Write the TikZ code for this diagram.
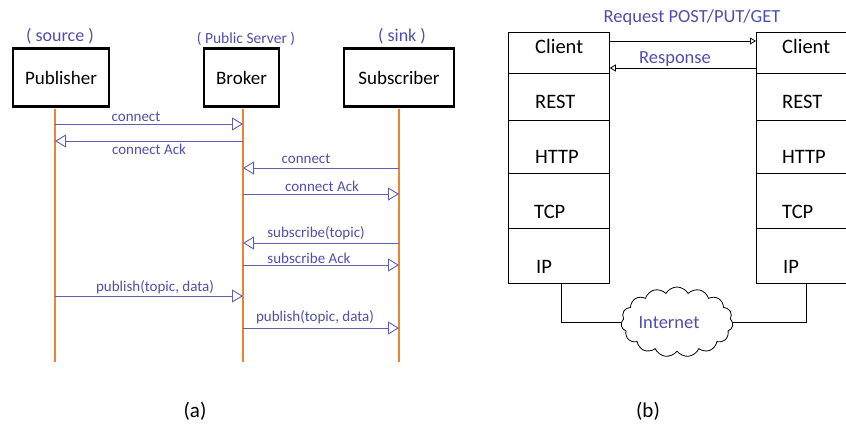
\documentclass[tikz,border=0pt]{standalone}
\usepackage{fontspec}
\setmainfont{Carlito}
\usetikzlibrary{arrows.meta,shapes.symbols}
\definecolor{txtblue}{RGB}{80,80,170}
\definecolor{lnblue}{RGB}{95,95,180}
\definecolor{lifeor}{RGB}{240,128,50}
\tikzset{
  actor/.style={draw=black, line width=2.6pt, minimum width=94pt, minimum height=58pt, inner sep=0pt, font=\fontsize{19}{21}\selectfont},
  role/.style={text=txtblue, anchor=base, inner sep=0pt},
  life/.style={draw=lifeor, line width=2.8pt},
  msg/.style={draw=lnblue, line width=0.9pt, -{Triangle[open, length=11pt, width=13pt]}},
  mlabel/.style={text=txtblue, anchor=base, inner sep=0pt, font=\fontsize{15}{17}\selectfont},
  layer/.style={draw=black, line width=0.8pt, anchor=north west, inner sep=0pt},
  ltext/.style={anchor=base west, inner sep=0pt, font=\fontsize{20.5}{22}\selectfont},
  req/.style={draw=black, line width=0.8pt, -{Triangle[open, length=6pt, width=7pt]}},
  blabel/.style={text=txtblue, anchor=base, inner sep=0pt, font=\fontsize{18.5}{20}\selectfont},
  captxt/.style={anchor=base, inner sep=0pt, font=\fontsize{21}{23}\selectfont}
}
\begin{document}
\begin{tikzpicture}[x=1pt, y=-1pt]
\clip (0,0) rectangle (846,429);
\fill[white] (0,0) rectangle (846,429);
% ---------- (a) ----------
\node[actor, minimum width=96pt] (pub) at (61,77.5) {Publisher};
\node[actor, minimum width=75pt] (brk) at (241.5,77.5) {Broker};
\node[actor, minimum width=110pt] (sub) at (399,77.5) {Subscriber};
\node[role, font=\fontsize{18}{20}\selectfont] (src) at (60,41) {( source )};
\node[role, font=\fontsize{15.5}{17}\selectfont] (pubsrv) at (246,43) {( Public Server )};
\node[role, font=\fontsize{18}{20}\selectfont] (snk) at (402,41) {( sink )};
% lifelines
\coordinate (pt) at (55,108.5);
\coordinate (bt) at (243,108.5);
\coordinate (st) at (399,108.5);
\coordinate (pb) at (55,362);
\coordinate (bb) at (243,362);
\coordinate (sb) at (399,362);
\draw[life] (pt) -- (pb);
\draw[life] (bt) -- (bb);
\draw[life] (st) -- (sb);
% message heights
\coordinate (m1) at (0,124);
\coordinate (m2) at (0,141);
\coordinate (m3) at (0,168);
\coordinate (m4) at (0,194);
\coordinate (m5) at (0,243);
\coordinate (m6) at (0,265);
\coordinate (m7) at (0,296);
\coordinate (m8) at (0,328);
\draw[msg] (pt |- m1) -- (bt |- m1);
\draw[msg] (bt |- m2) -- (pt |- m2);
\draw[msg] (st |- m3) -- (bt |- m3);
\draw[msg] (bt |- m4) -- (st |- m4);
\draw[msg] (st |- m5) -- (bt |- m5);
\draw[msg] (bt |- m6) -- (st |- m6);
\draw[msg] (pt |- m7) -- (bt |- m7);
\draw[msg] (bt |- m8) -- (st |- m8);
\node[mlabel] (l1) at (136,121) {connect};
\node[mlabel] (l2) at (149,154) {connect Ack};
\node[mlabel] (l3) at (306,163) {connect};
\node[mlabel] (l4) at (322,191) {connect Ack};
\node[mlabel] (l5) at (316,237) {subscribe(topic)};
\node[mlabel] (l6) at (309,263) {subscribe Ack};
\node[mlabel] (l7) at (155,291) {publish(topic, data)};
\node[mlabel] (l8) at (315,321) {publish(topic, data)};
% ---------- (b) ----------
% left stack
\node[layer, minimum width=101pt, minimum height=41pt] (lcl) at (508,32) {};
\node[layer, minimum width=101pt, minimum height=47pt] (lre) at (508,73) {};
\node[layer, minimum width=101pt, minimum height=53pt] (lht) at (508,120) {};
\node[layer, minimum width=101pt, minimum height=55pt] (ltc) at (508,173) {};
\node[layer, minimum width=101pt, minimum height=55pt] (lip) at (508,228) {};
\node[ltext] (tlcl) at (535,53) {Client};
\node[ltext] (tlre) at (535,108) {REST};
\node[ltext] (tlht) at (535,163) {HTTP};
\node[ltext] (tltc) at (534,218) {TCP};
\node[ltext] (tlip) at (536,273) {IP};
% right stack
\node[layer, minimum width=110pt, minimum height=41pt] (rcl) at (756,32) {};
\node[layer, minimum width=110pt, minimum height=47pt] (rre) at (756,73) {};
\node[layer, minimum width=110pt, minimum height=53pt] (rht) at (756,120) {};
\node[layer, minimum width=110pt, minimum height=55pt] (rtc) at (756,173) {};
\node[layer, minimum width=110pt, minimum height=55pt] (rip) at (756,228) {};
\node[ltext] (trcl) at (782,53) {Client};
\node[ltext] (trre) at (782,108) {REST};
\node[ltext] (trht) at (782,163) {HTTP};
\node[ltext] (trtc) at (782,218) {TCP};
\node[ltext] (trip) at (783,273) {IP};
% request / response
\coordinate (q1) at (0,41);
\coordinate (q2) at (0,68);
\draw[req] (lcl.east |- q1) -- (rcl.west |- q1);
\draw[req] (rcl.west |- q2) -- (lcl.east |- q2);
\node[blabel] (rq) at (692,22) {Request POST/PUT/GET};
\node[blabel] (rs) at (675,63) {Response};
% internet cloud
\node[cloud, cloud puffs=15, cloud puff arc=120, draw=black, line width=0.8pt, cloud ignores aspect, minimum width=112pt, minimum height=70pt, inner sep=0pt] (net) at (677,322) {};
\node[blabel] (nett) at (669,328) {Internet};
\coordinate (lt) at (561,283);
\coordinate (rt) at (806,283);
\draw[line width=0.8pt] (lt) |- (net.west);
\draw[line width=0.8pt] (rt) |- (net.east);
% captions
\node[captxt] (ca) at (195,417) {(a)};
\node[captxt] (cb) at (648,417) {(b)};
\end{tikzpicture}
\end{document}
